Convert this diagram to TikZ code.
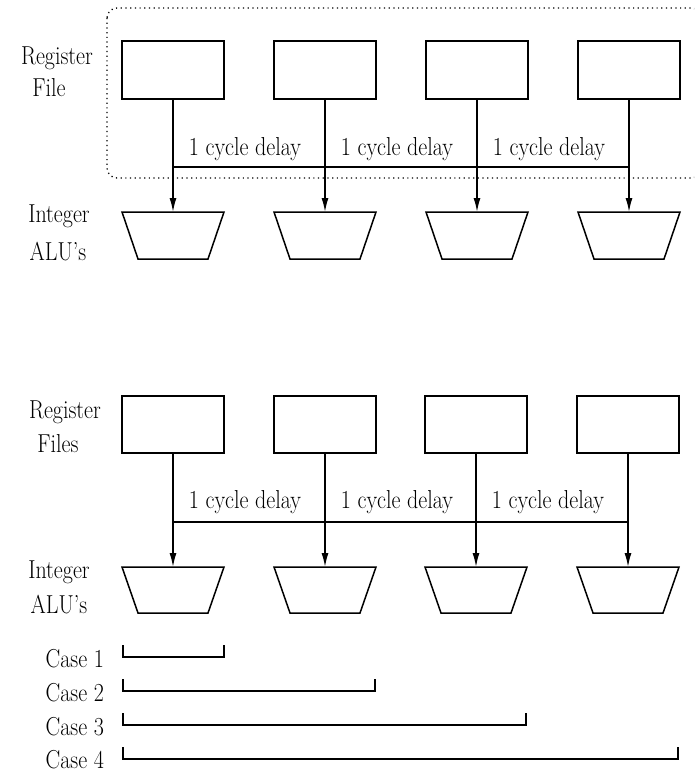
\documentclass[tikz,border=0pt]{standalone}
\usetikzlibrary{arrows.meta}
\newcommand\tallt[1]{\scalebox{1}[1.18]{#1}}
\begin{document}
\begin{tikzpicture}[x=1pt,y=-1pt,
  every node/.style={font=\fontsize{22}{26}\selectfont, inner sep=0pt, outer sep=0pt},
  regbox/.style={draw, line width=1.5pt, minimum width=102pt, minimum height=58pt},
  alu/.style={minimum width=102pt, minimum height=47pt},
  alushape/.style={line width=1.5pt, line join=miter},
  feed/.style={line width=1.5pt, -{Latex[length=14pt,width=7pt]}},
  bus/.style={line width=1.5pt},
  lbl/.style={anchor=base},
  bracket/.style={line width=1.5pt}]
\useasboundingbox (0,0) rectangle (694,773);
\fill[white] (0,0) rectangle (694,773);
% ---------- top panel ----------
\begin{scope}
\clip (0,0) rectangle (694,773);
\draw[line width=1.3pt, dash pattern=on 1.2pt off 3.5pt, rounded corners=10pt] (107,8) rectangle (701,178);
\end{scope}
\node[lbl] (tR) at (57,65) {\tallt{Register}};
\node[lbl] (tF) at (49,97) {\tallt{File}};
\node[lbl] (tI) at (59,222) {\tallt{Integer}};
\node[lbl] (tA) at (58,260) {\tallt{ALU's}};
\foreach \i/\x in {1/173,2/325,3/477,4/629}{
  \node[regbox] (tb\i) at (\x,70) {};
  \node[alu] (ta\i) at (\x,235.5) {};
  \draw[alushape] (ta\i.north west) -- (ta\i.north east) -- ([xshift=-16pt]ta\i.south east) -- ([xshift=16pt]ta\i.south west) -- cycle;
}
\coordinate (tL) at (173,167);
\coordinate (tRr) at (629,167);
\draw[bus] (tL) -- (tRr);
\foreach \i in {1,...,4}{ \draw[feed] (tb\i.south) -- (ta\i.north); }
\node[lbl] (td1) at (245,155) {\tallt{1 cycle delay}};
\node[lbl] (td2) at (397,155) {\tallt{1 cycle delay}};
\node[lbl] (td3) at (549,155) {\tallt{1 cycle delay}};
% ---------- bottom panel ----------
\node[lbl] (bR) at (65,418) {\tallt{Register}};
\node[lbl] (bF) at (58,452) {\tallt{Files}};
\node[lbl] (bI) at (59,578) {\tallt{Integer}};
\node[lbl] (bA) at (59,613) {\tallt{ALU's}};
\foreach \i/\x in {1/173,2/325,3/476,4/628}{
  \node[regbox, minimum height=57pt] (bb\i) at (\x,424.5) {};
  \node[alu, minimum height=46pt] (ba\i) at (\x,590) {};
  \draw[alushape] (ba\i.north west) -- (ba\i.north east) -- ([xshift=-16pt]ba\i.south east) -- ([xshift=16pt]ba\i.south west) -- cycle;
}
\coordinate (bL) at (173,522);
\coordinate (bRr) at (628,522);
\draw[bus] (bL) -- (bRr);
\foreach \i in {1,...,4}{ \draw[feed] (bb\i.south) -- (ba\i.north); }
\node[lbl] (bd1) at (245,508) {\tallt{1 cycle delay}};
\node[lbl] (bd2) at (397,508) {\tallt{1 cycle delay}};
\node[lbl] (bd3) at (548,508) {\tallt{1 cycle delay}};
% ---------- cases ----------
\node[anchor=base east] (c1) at (104,667) {\tallt{Case 1}};
\node[anchor=base east] (c2) at (104,701) {\tallt{Case 2}};
\node[anchor=base east] (c3) at (104,735) {\tallt{Case 3}};
\node[anchor=base east] (c4) at (104,768) {\tallt{Case 4}};
\draw[bracket] (123,645) -- (123,657) -- (224,657) -- (224,645);
\draw[bracket] (123,679) -- (123,691) -- (375,691) -- (375,679);
\draw[bracket] (123,713) -- (123,725) -- (526,725) -- (526,713);
\draw[bracket] (123,747) -- (123,759) -- (678,759) -- (678,747);
\end{tikzpicture}
\end{document}
